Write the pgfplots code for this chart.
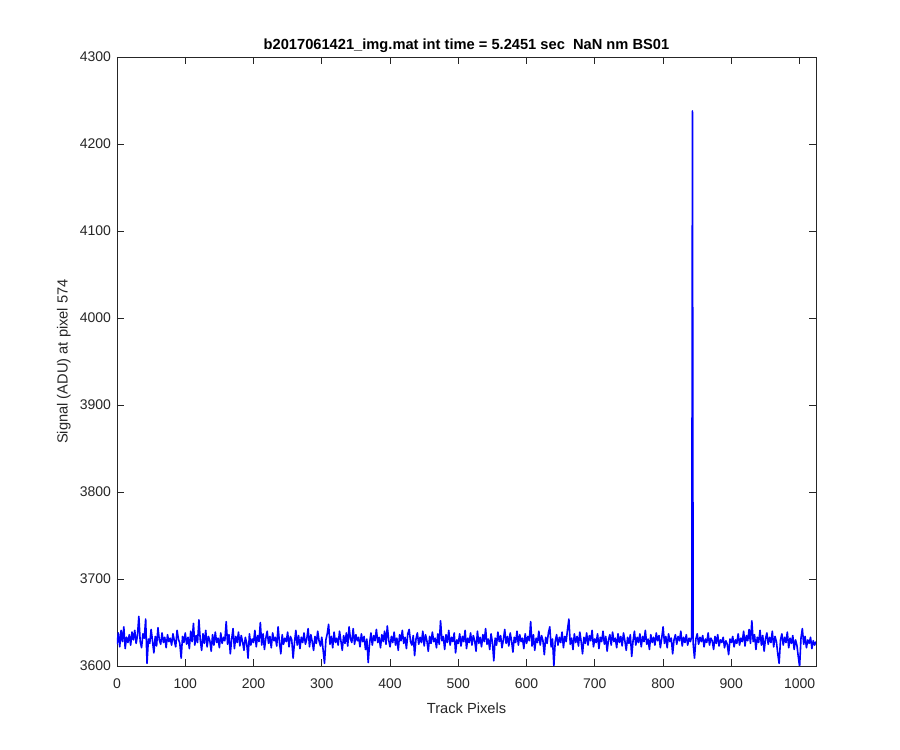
\documentclass[border=0pt]{standalone}
\usepackage{pgfplots}
\pgfplotsset{compat=1.18}
\usepackage{fontspec}
\setmainfont{Liberation Sans}
\definecolor{axgray}{RGB}{38,38,38}
\begin{document}
\begin{tikzpicture}
\path[use as bounding box] (-87.75pt,-63pt) rectangle (587.25pt,499.5pt);
\begin{axis}[
  at={(0,0)}, anchor=south west,
  scale only axis, width=524.25pt, height=456.75pt,
  xmin=0, xmax=1024, ymin=3600, ymax=4300,
  xtick={0,100,...,1000}, ytick={3600,3700,...,4300},
  scaled ticks=false,
  /pgf/number format/1000 sep={},
  /pgf/number format/assume math mode=true,
  tick align=inside, major tick length=5pt,
  axis line style={axgray, line width=0.6pt},
  every tick/.style={axgray, line width=0.6pt},
  tick label style={font=\fontsize{10.5}{12}\selectfont, text=axgray},
  xticklabel style={yshift=-6pt},
  yticklabel style={xshift=-1pt},
  label style={font=\fontsize{11}{13}\selectfont, text=axgray},
  xlabel={Track Pixels},
  xlabel style={yshift=-4pt},
  ylabel={Signal (ADU) at pixel 574},
  title={\textbf{b2017061421\_img.mat int time = 5.2451 sec\ \ NaN nm BS01}},
  title style={font=\fontsize{11}{13}\selectfont, text=black, yshift=-6.5pt},
  clip=true,
]
\addplot[color=blue, line width=1.2pt, line join=round] coordinates {
(0,3625)(2,3638)(4,3622)(6,3641)(8,3628)(10,3645)(12,3620)(14,3633)(16,3627)(18,3636)
(20,3624)(22,3639)(24,3630)(26,3641)(28,3626)(30,3635)(32,3657)(34,3628)(36,3621)(38,3637)
(40,3632)(42,3654)(44,3603)(46,3631)(48,3626)(50,3642)(52,3629)(54,3615)(56,3634)(58,3623)
(60,3644)(62,3630)(64,3625)(66,3638)(68,3627)(70,3633)(72,3621)(74,3636)(76,3628)(78,3632)
(80,3624)(82,3637)(84,3629)(86,3622)(88,3641)(90,3631)(92,3626)(94,3609)(96,3634)(98,3627)
(100,3638)(102,3625)(104,3633)(106,3620)(108,3640)(110,3628)(112,3649)(114,3624)(116,3635)(118,3627)
(120,3653)(122,3630)(124,3618)(126,3637)(128,3626)(130,3641)(132,3622)(134,3634)(136,3629)(138,3617)
(140,3636)(142,3624)(144,3639)(146,3627)(148,3632)(150,3621)(152,3638)(154,3626)(156,3633)(158,3629)
(160,3651)(162,3625)(164,3636)(166,3614)(168,3631)(170,3643)(172,3620)(174,3634)(176,3627)(178,3639)
(180,3623)(182,3635)(184,3628)(186,3618)(188,3633)(190,3626)(192,3609)(194,3637)(196,3624)(198,3631)
(200,3627)(202,3641)(204,3622)(206,3635)(208,3628)(210,3650)(212,3624)(214,3637)(216,3619)(218,3632)
(220,3640)(222,3626)(224,3634)(226,3621)(228,3638)(230,3629)(232,3633)(234,3623)(236,3645)(238,3627)
(240,3614)(242,3636)(244,3625)(246,3632)(248,3628)(250,3639)(252,3622)(254,3634)(256,3630)(258,3609)
(260,3627)(262,3641)(264,3624)(266,3635)(268,3620)(270,3633)(272,3627)(274,3638)(276,3625)(278,3631)
(280,3643)(282,3622)(284,3636)(286,3628)(288,3618)(290,3634)(292,3626)(294,3640)(296,3629)(298,3623)
(300,3633)(302,3618)(304,3603)(306,3630)(308,3637)(310,3648)(312,3625)(314,3634)(316,3621)(318,3639)
(320,3627)(322,3632)(324,3624)(326,3640)(328,3629)(330,3618)(332,3635)(334,3626)(336,3638)(338,3623)
(340,3645)(342,3631)(344,3627)(346,3643)(348,3625)(350,3636)(352,3629)(354,3633)(356,3622)(358,3637)
(360,3628)(362,3634)(364,3619)(366,3631)(368,3604)(370,3626)(372,3638)(374,3624)(376,3635)(378,3629)
(380,3642)(382,3627)(384,3633)(386,3621)(388,3636)(390,3628)(392,3640)(394,3625)(396,3646)(398,3630)
(400,3622)(402,3634)(404,3627)(406,3639)(408,3624)(410,3632)(412,3618)(414,3636)(416,3629)(418,3641)
(420,3626)(422,3633)(424,3620)(426,3637)(428,3642)(430,3628)(432,3624)(434,3635)(436,3612)(438,3631)
(440,3638)(442,3625)(444,3633)(446,3627)(448,3640)(450,3623)(452,3636)(454,3629)(456,3617)(458,3634)
(460,3626)(462,3639)(464,3628)(466,3632)(468,3621)(470,3637)(472,3625)(474,3652)(476,3629)(478,3634)
(480,3619)(482,3636)(484,3627)(486,3641)(488,3624)(490,3633)(492,3628)(494,3638)(496,3615)(498,3630)
(500,3626)(502,3637)(504,3623)(506,3634)(508,3628)(510,3641)(512,3620)(514,3632)(516,3627)(518,3638)
(520,3624)(522,3635)(524,3629)(526,3617)(528,3640)(530,3626)(532,3633)(534,3622)(536,3636)(538,3628)
(540,3643)(542,3625)(544,3631)(546,3619)(548,3637)(550,3627)(552,3606)(554,3632)(556,3624)(558,3639)
(560,3628)(562,3635)(564,3621)(566,3630)(568,3642)(570,3626)(572,3634)(574,3623)(576,3638)(578,3629)
(580,3616)(582,3633)(584,3627)(586,3640)(588,3624)(590,3636)(592,3628)(594,3632)(596,3620)(598,3637)
(600,3626)(602,3634)(604,3629)(606,3651)(608,3623)(610,3636)(612,3618)(614,3632)(616,3627)(618,3640)
(620,3624)(622,3635)(624,3629)(626,3613)(628,3633)(630,3626)(632,3638)(634,3645)(636,3622)(638,3631)
(640,3600)(642,3628)(644,3636)(646,3624)(648,3633)(650,3627)(652,3639)(654,3621)(656,3634)(658,3628)
(660,3642)(662,3654)(664,3625)(666,3632)(668,3619)(670,3637)(672,3627)(674,3634)(676,3623)(678,3639)
(680,3628)(682,3614)(684,3633)(686,3626)(688,3638)(690,3624)(692,3635)(694,3629)(696,3641)(698,3622)
(700,3631)(702,3627)(704,3637)(706,3620)(708,3633)(710,3628)(712,3640)(714,3625)(716,3634)(718,3617)
(720,3630)(722,3636)(724,3624)(726,3639)(728,3628)(730,3632)(732,3621)(734,3637)(736,3627)(738,3634)
(740,3623)(742,3638)(744,3629)(746,3618)(748,3633)(750,3626)(752,3636)(754,3611)(756,3629)(758,3640)
(760,3624)(762,3633)(764,3627)(766,3637)(768,3622)(770,3634)(772,3628)(774,3641)(776,3625)(778,3631)
(780,3619)(782,3636)(784,3627)(786,3633)(788,3624)(790,3638)(792,3629)(794,3635)(796,3621)(798,3632)
(800,3645)(802,3626)(804,3634)(806,3621)(808,3637)(810,3628)(812,3632)(814,3614)(816,3630)(818,3636)
(820,3625)(822,3634)(824,3629)(826,3640)(828,3623)(830,3633)(832,3627)(834,3636)(836,3624)(838,3632)
(840,3628)(842,3634)(843,4238)(844,3626)(846,3609)(848,3631)(850,3637)(852,3625)(854,3633)(856,3628)
(858,3635)(860,3622)(862,3631)(864,3627)(866,3638)(868,3624)(870,3632)(872,3629)(874,3619)(876,3634)
(878,3626)(880,3636)(882,3623)(884,3630)(886,3627)(888,3633)(890,3621)(892,3629)(894,3625)(896,3613)
(898,3631)(900,3627)(902,3634)(904,3622)(906,3630)(908,3626)(910,3637)(912,3624)(914,3632)(916,3628)
(918,3640)(920,3623)(922,3635)(924,3629)(926,3642)(928,3626)(930,3652)(932,3628)(934,3636)(936,3619)
(938,3633)(940,3627)(942,3641)(944,3624)(946,3635)(948,3617)(950,3631)(952,3638)(954,3625)(956,3633)
(958,3627)(960,3640)(962,3622)(964,3634)(966,3628)(968,3614)(970,3603)(972,3630)(974,3637)(976,3624)
(978,3633)(980,3627)(982,3639)(984,3621)(986,3632)(988,3626)(990,3635)(992,3619)(994,3630)(996,3624)
(998,3611)(1000,3599)(1002,3632)(1004,3643)(1006,3625)(1008,3634)(1010,3621)(1012,3630)(1014,3626)(1016,3633)
(1018,3620)(1020,3629)(1022,3624)(1024,3628)
};
\end{axis}
\end{tikzpicture}
\end{document}
